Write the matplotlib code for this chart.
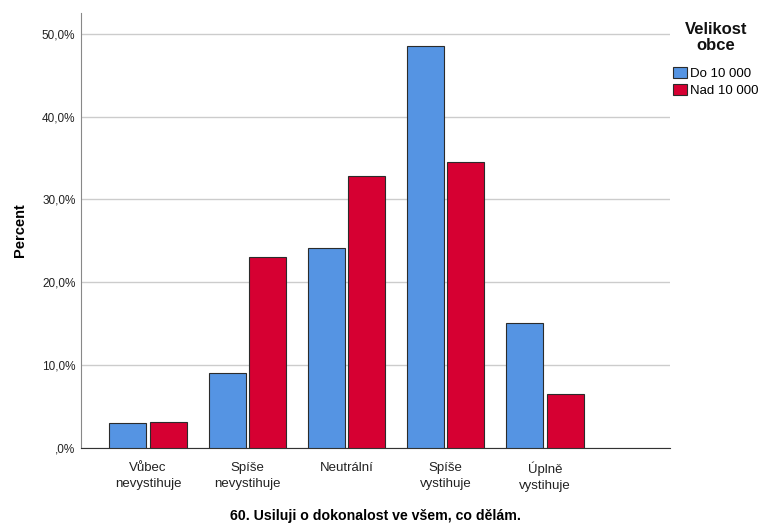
import matplotlib
matplotlib.use("Agg")
import matplotlib.pyplot as plt
import numpy as np

plt.rcParams['font.family'] = ['Liberation Sans', 'DejaVu Sans']

categories = ["Vůbec\nnevystihuje", "Spíše\nnevystihuje", "Neutrální", "Spíše\nvystihuje", "Úplně\nvystihuje"]
do_10000 = [3.0, 9.1, 24.2, 48.5, 15.1]
nad_10000 = [3.2, 23.0, 32.8, 34.5, 6.5]
series_names = ["Do 10 000", "Nad 10 000"]
yticks = [0, 10, 20, 30, 40, 50]
ytick_labels = [",0%", "10,0%", "20,0%", "30,0%", "40,0%", "50,0%"]

fig = plt.figure(figsize=(7.6, 5.24), dpi=100)
ax = fig.add_axes([0.1066, 0.145, 0.775, 0.830])

x = np.arange(len(categories))
w = 0.372
off = 0.203
b1 = ax.bar(x - off, do_10000, width=w, color="#5594E3", edgecolor="#2b2b2b", linewidth=0.8, zorder=3)
b2 = ax.bar(x + off, nad_10000, width=w, color="#D60032", edgecolor="#2b2b2b", linewidth=0.8, zorder=3)

ax.set_xlim(-0.675, 5.26)
ax.set_ylim(0, 52.5)
ax.set_yticks(yticks)
ax.set_yticklabels(ytick_labels, fontsize=8.5, color="#222222")
ax.set_xticks(x)
ax.set_xticklabels(categories, fontsize=9.5, color="#222222", linespacing=1.4)
ax.tick_params(axis='both', length=0)
ax.tick_params(axis='x', pad=10)
ax.tick_params(axis='y', pad=4)
ax.yaxis.grid(True, color="#cccccc", linewidth=1.0, zorder=0)
ax.set_axisbelow(True)
for s in ["top", "right"]:
    ax.spines[s].set_visible(False)
ax.spines["left"].set_color("#888888")
ax.spines["bottom"].set_color("#333333")

ax.set_ylabel("Percent", fontsize=10.5, fontweight="bold", labelpad=11)
ax.set_xlabel("60. Usiluji o dokonalost ve všem, co dělám.", fontsize=10.2, fontweight="bold", labelpad=12)

fig.text(0.942, 0.928, "Velikost\nobce", ha="center", va="center", fontsize=12,
         fontweight="bold", linespacing=1.12, multialignment="center", color="#111111")

leg = fig.legend([b1, b2], series_names, loc="center left",
                 bbox_to_anchor=(0.8855, 0.843), frameon=False, fontsize=9.5,
                 handlelength=1.1, handleheight=0.9, handletextpad=0.2,
                 labelspacing=0.3, borderpad=0, borderaxespad=0)

fig.savefig("out.png", dpi=100)
